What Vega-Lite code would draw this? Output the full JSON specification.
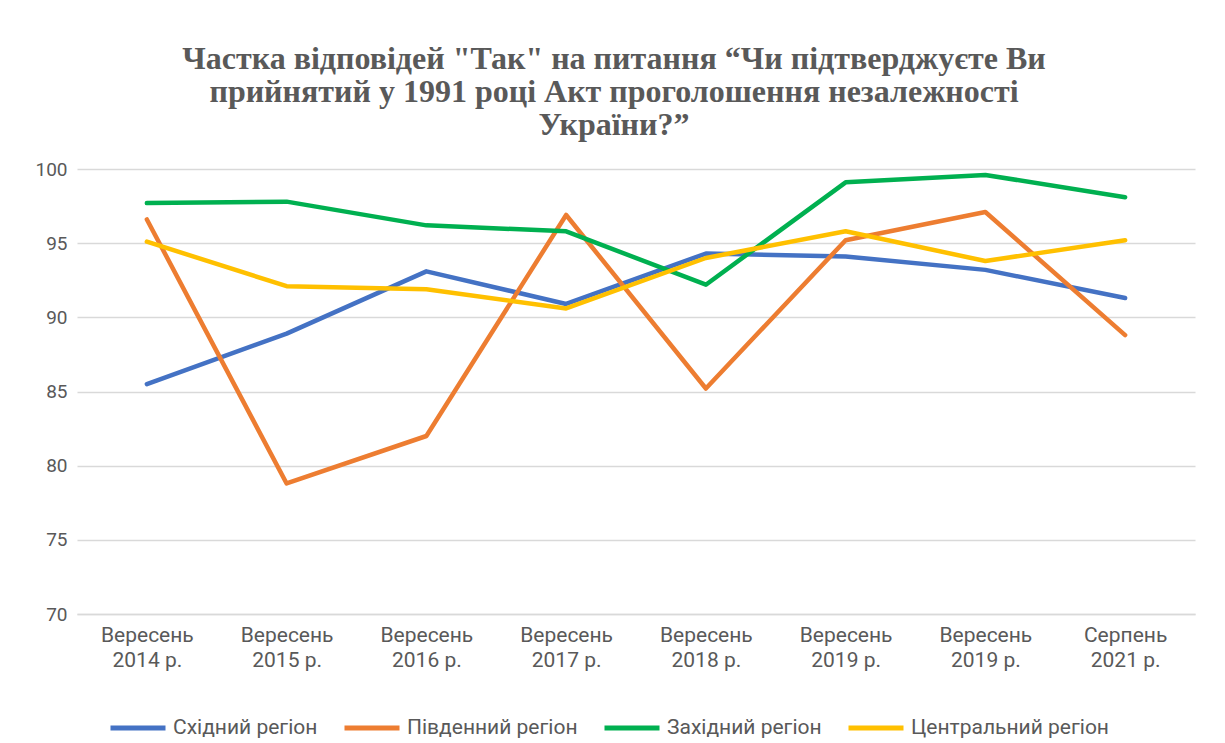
{
  "$schema": "https://vega.github.io/schema/vega-lite/v6.json",
  "width": 1118,
  "height": 445,
  "autosize": {"type": "none"},
  "padding": {"left": 77, "top": 169, "right": 30, "bottom": 129},
  "background": "white",
  "config": {
    "view": {"stroke": null},
    "font": "Roboto",
    "axis": {"labelColor": "#595959", "labelFont": "Roboto", "labelFontSize": 19, "ticks": false, "domain": false, "gridColor": "#d9d9d9", "gridWidth": 1.5}
  },
  "title": {
    "text": ["Частка відповідей \"Так\" на питання “Чи підтверджуєте Ви", "прийнятий у 1991 році Акт проголошення незалежності", "України?”"],
    "font": "Liberation Serif",
    "fontSize": 32,
    "fontWeight": "bold",
    "color": "#595959",
    "lineHeight": 33,
    "anchor": "middle",
    "dx": -22,
    "offset": 18
  },
  "data": {
    "values": [
      {"idx": 0, "region": "Східний регіон", "value": 85.5},
      {"idx": 1, "region": "Східний регіон", "value": 88.9},
      {"idx": 2, "region": "Східний регіон", "value": 93.1},
      {"idx": 3, "region": "Східний регіон", "value": 90.9},
      {"idx": 4, "region": "Східний регіон", "value": 94.3},
      {"idx": 5, "region": "Східний регіон", "value": 94.1},
      {"idx": 6, "region": "Східний регіон", "value": 93.2},
      {"idx": 7, "region": "Східний регіон", "value": 91.3},
      {"idx": 0, "region": "Південний регіон", "value": 96.6},
      {"idx": 1, "region": "Південний регіон", "value": 78.8},
      {"idx": 2, "region": "Південний регіон", "value": 82.0},
      {"idx": 3, "region": "Південний регіон", "value": 96.9},
      {"idx": 4, "region": "Південний регіон", "value": 85.2},
      {"idx": 5, "region": "Південний регіон", "value": 95.2},
      {"idx": 6, "region": "Південний регіон", "value": 97.1},
      {"idx": 7, "region": "Південний регіон", "value": 88.8},
      {"idx": 0, "region": "Західний регіон", "value": 97.7},
      {"idx": 1, "region": "Західний регіон", "value": 97.8},
      {"idx": 2, "region": "Західний регіон", "value": 96.2},
      {"idx": 3, "region": "Західний регіон", "value": 95.8},
      {"idx": 4, "region": "Західний регіон", "value": 92.2},
      {"idx": 5, "region": "Західний регіон", "value": 99.1},
      {"idx": 6, "region": "Західний регіон", "value": 99.6},
      {"idx": 7, "region": "Західний регіон", "value": 98.1},
      {"idx": 0, "region": "Центральний регіон", "value": 95.1},
      {"idx": 1, "region": "Центральний регіон", "value": 92.1},
      {"idx": 2, "region": "Центральний регіон", "value": 91.9},
      {"idx": 3, "region": "Центральний регіон", "value": 90.6},
      {"idx": 4, "region": "Центральний регіон", "value": 94.0},
      {"idx": 5, "region": "Центральний регіон", "value": 95.8},
      {"idx": 6, "region": "Центральний регіон", "value": 93.8},
      {"idx": 7, "region": "Центральний регіон", "value": 95.2}
    ]
  },
  "mark": {"type": "line", "strokeWidth": 4.5, "strokeCap": "round", "strokeJoin": "round"},
  "encoding": {
    "x": {
      "field": "idx",
      "type": "ordinal",
      "scale": {"type": "point", "padding": 0.5},
      "axis": {
        "title": null,
        "labelAngle": 0,
        "grid": false,
        "domain": true,
        "domainColor": "#d9d9d9",
        "domainWidth": 1.5,
        "labelPadding": 10,
        "labelFontSize": 21,
        "labelLineHeight": 25,
        "labelExpr": "[['Вересень','2014 р.'],['Вересень','2015 р.'],['Вересень','2016 р.'],['Вересень','2017 р.'],['Вересень','2018 р.'],['Вересень','2019 р.'],['Вересень','2019 р.'],['Серпень','2021 р.']][datum.value]"
      }
    },
    "y": {
      "field": "value",
      "type": "quantitative",
      "scale": {"domain": [70, 100], "nice": false, "zero": false},
      "axis": {"title": null, "values": [70, 75, 80, 85, 90, 95, 100], "labelPadding": 10, "grid": true}
    },
    "color": {
      "field": "region",
      "type": "nominal",
      "sort": ["Східний регіон", "Південний регіон", "Західний регіон", "Центральний регіон"],
      "scale": {"domain": ["Східний регіон", "Південний регіон", "Західний регіон", "Центральний регіон"], "range": ["#4472C4", "#ED7D31", "#00B050", "#FFC000"]},
      "legend": {
        "title": null,
        "orient": "none",
        "direction": "horizontal",
        "legendX": 31,
        "legendY": 529,
        "symbolType": "stroke",
        "symbolSize": 3025,
        "symbolStrokeWidth": 5,
        "labelFont": "Roboto",
        "labelFontSize": 21,
        "labelLimit": 400,
        "labelColor": "#595959",
        "labelOffset": 5,
        "columnPadding": 16
      }
    }
  }
}
